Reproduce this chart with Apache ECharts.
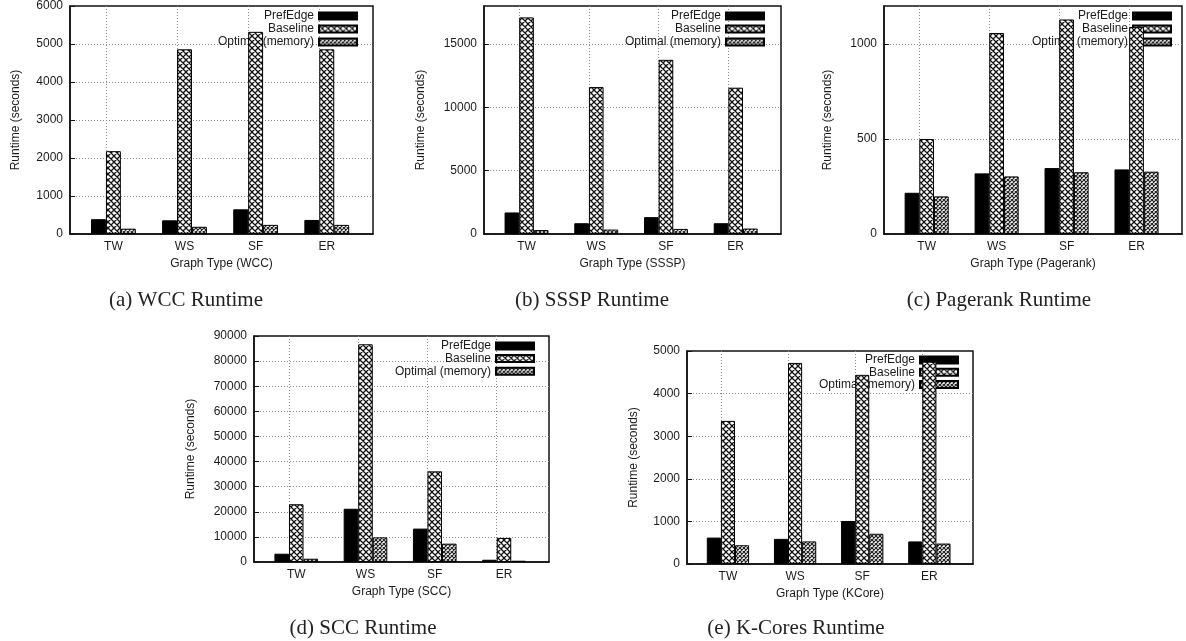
<!DOCTYPE html>
<html><head><meta charset="utf-8">
<script src="https://cdn.jsdelivr.net/npm/echarts@6/dist/echarts.min.js"></script>
<style>html,body{margin:0;padding:0;background:#fff}#c{width:1186px;height:641px}</style>
</head><body><div id="c"></div>
<script>
// ---------------- data ----------------
const categories = ['TW', 'WS', 'SF', 'ER'];
const seriesNames = ['PrefEdge', 'Baseline', 'Optimal (memory)'];

const wccPrefEdge = [390, 360, 650, 370];
const wccBaseline = [2180, 4860, 5320, 4860];
const wccOptimal  = [140, 190, 240, 240];

const ssspPrefEdge = [1700, 850, 1330, 850];
const ssspBaseline = [17100, 11600, 13750, 11550];
const ssspOptimal  = [310, 350, 400, 430];

const pagerankPrefEdge = [217, 319, 347, 340];
const pagerankBaseline = [500, 1058, 1129, 1090];
const pagerankOptimal  = [198, 303, 325, 328];

const sccPrefEdge = [3300, 21200, 13300, 900];
const sccBaseline = [23000, 86700, 36100, 9600];
const sccOptimal  = [1300, 9800, 7300, 500];

const kcorePrefEdge = [620, 590, 1010, 530];
const kcoreBaseline = [3360, 4720, 4440, 4750];
const kcoreOptimal  = [440, 530, 710, 480];

const xAxisTitles = ['Graph Type (WCC)', 'Graph Type (SSSP)', 'Graph Type (Pagerank)', 'Graph Type (SCC)', 'Graph Type (KCore)'];
const captions = ['(a) WCC Runtime', '(b) SSSP Runtime', '(c) Pagerank Runtime', '(d) SCC Runtime', '(e) K-Cores Runtime'];
const yAxisTitle = 'Runtime (seconds)';
const yMaxes = [6000, 18000, 1200, 90000, 5000];
const yIntervals = [1000, 5000, 500, 10000, 1000];

const panelSeries = [
  [wccPrefEdge, wccBaseline, wccOptimal],
  [ssspPrefEdge, ssspBaseline, ssspOptimal],
  [pagerankPrefEdge, pagerankBaseline, pagerankOptimal],
  [sccPrefEdge, sccBaseline, sccOptimal],
  [kcorePrefEdge, kcoreBaseline, kcoreOptimal]
];

// ---------------- layout ----------------
const layout = [
  {left: 70,  top: 6,   width: 303, height: 228, yGap: 48, legRight: 828, legTop: 10,  lh: 12, gap: 1,   capX: 186, capY: 300},
  {left: 484, top: 6,   width: 297, height: 228, yGap: 57, legRight: 421, legTop: 10,  lh: 12, gap: 1,   capX: 592, capY: 300},
  {left: 884, top: 6,   width: 298, height: 228, yGap: 50, legRight: 14,  legTop: 10,  lh: 12, gap: 1,   capX: 999, capY: 300},
  {left: 254, top: 336, width: 295, height: 226, yGap: 57, legRight: 651, legTop: 340, lh: 11, gap: 0.6, capX: 363, capY: 628},
  {left: 687, top: 351, width: 286, height: 213, yGap: 47, legRight: 227, legTop: 354, lh: 11, gap: 0.2, capX: 796, capY: 628}
];
const X_MIN = -0.61, X_MAX = 3.65, BAR = 0.21;

function makePattern(size, lw, color) {
  const c = document.createElement('canvas');
  c.width = c.height = size;
  const g = c.getContext('2d');
  g.fillStyle = '#fff'; g.fillRect(0, 0, size, size);
  g.strokeStyle = color; g.lineWidth = lw;
  g.beginPath();
  for (let k = -1; k <= 1; k++) {
    g.moveTo(-size, -size + k * size); g.lineTo(2 * size, 2 * size + k * size);
    g.moveTo(-size, 2 * size + k * size); g.lineTo(2 * size, -size + k * size);
  }
  g.stroke();
  return c;
}
const baselineFill = {image: makePattern(6, 1.3, '#111'), repeat: 'repeat'};
const optimalFill = {image: makePattern(4, 1.2, '#222'), repeat: 'repeat'};
const fills = ['#000', baselineFill, optimalFill];

const FONT = 'Liberation Sans';
const TXT = '#1a1a1a';

const grid = [], xAxis = [], yAxis = [], series = [], legend = [], graphic = [];
layout.forEach((L, p) => {
  grid.push({left: L.left, top: L.top, width: L.width, height: L.height, show: true,
    borderColor: '#111', borderWidth: 1.5, backgroundColor: 'transparent', containLabel: false});
  // category positions axis (labels)
  xAxis.push({type: 'value', gridIndex: p, min: X_MIN, max: X_MAX, minInterval: 1, maxInterval: 1,
    name: xAxisTitles[p], nameLocation: 'middle', nameGap: 24,
    nameTextStyle: {fontFamily: FONT, fontSize: 12, color: TXT},
    axisLine: {show: true, onZero: false, lineStyle: {color: '#111', width: 1.5}}, axisTick: {show: false},
    splitLine: {show: false},
    axisLabel: {fontFamily: FONT, fontSize: 12, color: TXT, margin: 7, showMinLabel: false, showMaxLabel: false,
      formatter: v => (Math.abs(v - Math.round(v)) < 1e-6 && categories[Math.round(v)]) ? categories[Math.round(v)] : ''}
  });
  // grid-line axis (gnuplot tic positions)
  xAxis.push({type: 'value', gridIndex: p, min: X_MIN + BAR / 2, max: X_MAX + BAR / 2, minInterval: 1, maxInterval: 1,
    position: 'top', axisLine: {show: false, onZero: false}, axisTick: {show: false}, axisLabel: {show: false},
    splitLine: {show: true, showMinLine: false, showMaxLine: false, lineStyle: {color: '#888', type: [1, 2], width: 1}}
  });
  yAxis.push({type: 'value', gridIndex: p, min: 0, max: yMaxes[p], interval: yIntervals[p],
    name: yAxisTitle, nameLocation: 'middle', nameGap: L.yGap, nameRotate: 90,
    nameTextStyle: {fontFamily: FONT, fontSize: 12, color: TXT},
    axisLine: {show: true, onZero: false, lineStyle: {color: '#111', width: 1.5}},
    axisTick: {show: true, inside: true, length: 5, lineStyle: {color: '#111'}},
    axisLabel: {fontFamily: FONT, fontSize: 12, color: TXT, margin: 7,
      showMaxLabel: yMaxes[p] % yIntervals[p] === 0, formatter: v => String(v)},
    splitLine: {show: true, showMinLine: false, showMaxLine: false, lineStyle: {color: '#888', type: [1, 2], width: 1}}
  });
  panelSeries[p].forEach((arr, s) => {
    series.push({type: 'bar', name: seriesNames[s], xAxisIndex: 2 * p, yAxisIndex: p,
      barWidth: (BAR * 100) + '%', barGap: '0%', z: 3,
      itemStyle: {color: fills[s], borderColor: '#000', borderWidth: 1},
      data: categories.map((c, i) => [i, arr[i]])
    });
  });
  legend.push({orient: 'vertical', right: L.legRight, top: L.legTop, align: 'right', padding: 0,
    itemWidth: 38, itemHeight: 7, itemGap: L.gap, icon: 'rect', z: 1, selectedMode: false,
    textStyle: {fontFamily: FONT, fontSize: 12, color: TXT, lineHeight: L.lh, padding: 0},
    data: seriesNames.slice()});
  graphic.push({type: 'text', x: L.capX, y: L.capY, silent: true,
    style: {text: captions[p], fontFamily: 'Liberation Serif', fontSize: 21, fill: '#222',
      align: 'center', verticalAlign: 'middle', textAlign: 'center', textVerticalAlign: 'middle'}});
});

const chart = echarts.init(document.getElementById('c'), null, {renderer: 'canvas'});
chart.setOption({animation: false, backgroundColor: '#fff', grid, xAxis, yAxis, series, legend, graphic});
</script>
</body></html>
